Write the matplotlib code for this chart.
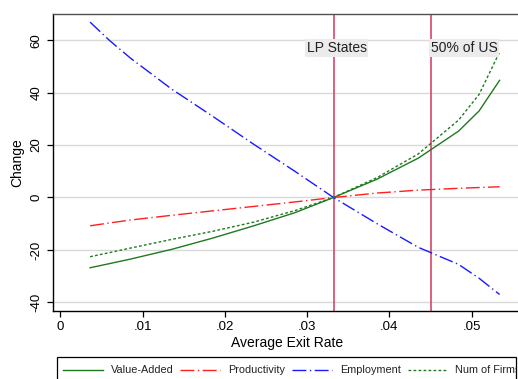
import matplotlib
matplotlib.use("Agg")
import matplotlib.pyplot as plt
from matplotlib.lines import Line2D
from matplotlib.patches import Rectangle
from matplotlib.transforms import Bbox, TransformedBbox

plt.rcParams['font.family'] = ['Liberation Sans', 'DejaVu Sans']

# ---- data ----
exit_rate = [0.0036, 0.0060, 0.0085, 0.0135, 0.0185, 0.0235, 0.0285, 0.0332,
             0.0385, 0.0435, 0.0484, 0.0509, 0.0534]
value_added = [-26.8, -25.2, -23.5, -19.8, -15.5, -10.8, -5.8, 0.0,
               7.0, 15.0, 25.3, 33.0, 44.7]
productivity = [-10.8, -9.7, -8.6, -6.8, -5.1, -3.4, -1.7, 0.0,
                1.7, 2.8, 3.5, 3.8, 4.1]
employment = [66.9, 59.8, 53.2, 41.4, 31.0, 20.3, 10.0, 0.0,
              -10.0, -19.0, -25.5, -30.8, -37.0]
num_firms = [-22.6, -21.0, -19.3, -16.0, -12.9, -9.4, -5.0, 0.0,
             7.6, 16.6, 29.5, 39.3, 55.5]

series_names = ["Value-Added", "Productivity", "Employment", "Num of Firms"]

xticks = [0, 0.01, 0.02, 0.03, 0.04, 0.05]
xtick_labels = ["0", ".01", ".02", ".03", ".04", ".05"]
yticks = [-40, -20, 0, 20, 40, 60]
ytick_labels = ["-40", "-20", "0", "20", "40", "60"]

vlines = [0.0332, 0.045]
vline_labels = ["LP States", "50% of US"]

# ---- figure ----
W, H = 518, 379
fig = plt.figure(figsize=(W / 100, H / 100), dpi=100)
fig.patch.set_facecolor("white")
ax = fig.add_axes([52.5 / W, 1 - 311 / H, (521 - 52.5) / W, (311 - 14) / H])

ax.set_xlim(-0.00097, 0.0560)
ax.set_ylim(-43.3, 70.0)

for y in yticks:
    ax.axhline(y, color="#d9d9d9", lw=1.0, zorder=0)

green = "#1f7a1f"
styles = [
    dict(color=green, ls="-", lw=1.0),
    dict(color="#ff1f1f", ls=(0, (10, 2.5, 1, 2.5)), lw=1.0),
    dict(color="#1a1aff", ls=(0, (10, 2.5, 1, 2.5)), lw=1.0),
    dict(color=green, ls=(0, (2.0, 1.6)), lw=1.0),
]
data = [value_added, productivity, employment, num_firms]
handles = []
for vals, st, name in zip(data, styles, series_names):
    ln, = ax.plot(exit_rate, vals, zorder=3, label=name, **st)
    handles.append(ln)

vcol = "#d4486a"
for xv in vlines:
    ax.axvline(xv, color=vcol, lw=1.2, zorder=2)

ax.text(0.0336, 57.0, vline_labels[0], ha="center", va="center", fontsize=10,
        color="#222222", zorder=4,
        bbox=dict(facecolor="#ebebeb", edgecolor="none", pad=1.2))
ax.text(0.04505, 57.0, vline_labels[1], ha="left", va="center", fontsize=10,
        color="#222222", zorder=4,
        bbox=dict(facecolor="#ebebeb", edgecolor="none", pad=1.2))

ax.set_xticks(xticks)
ax.set_xticklabels(xtick_labels, fontsize=9.5)
ax.set_yticks(yticks)
ax.set_yticklabels(ytick_labels, fontsize=9.5, rotation=90, va="center")
ax.tick_params(axis="both", length=4, width=0.9, color="black", pad=3.5)
ax.tick_params(axis="y", pad=3)

for s in ["left", "bottom"]:
    ax.spines[s].set_color("black")
    ax.spines[s].set_linewidth(1.0)
ax.spines["top"].set_color("#505050")
ax.spines["top"].set_linewidth(1.0)
ax.spines["right"].set_color("#505050")

ax.set_xlabel("Average Exit Rate", fontsize=10, labelpad=2)
ax.set_ylabel("Change", fontsize=10, labelpad=5)

# ---- legend (manual, clipped by its frame, as in the reference) ----
lx0, lx1, ly0, ly1 = 57, 516, 357, 392
frame = Rectangle((lx0 / W, 1 - ly1 / H), (lx1 - lx0) / W, (ly1 - ly0) / H,
                  transform=fig.transFigure, facecolor="white",
                  edgecolor="black", lw=0.9)
fig.add_artist(frame)
clip = TransformedBbox(Bbox.from_extents(lx0 / W, 0, lx1 / W, 1), fig.transFigure)
sample_x = [63, 180, 292, 408]
text_x = [111, 228, 340, 455]
yrow = 1 - 370 / H
for h, st, sx, tx, name in zip(handles, styles, sample_x, text_x, series_names):
    l = Line2D([sx / W, (sx + 40) / W], [yrow, yrow], transform=fig.transFigure,
               color=st["color"], ls=st["ls"], lw=1.0)
    fig.add_artist(l)
    t = fig.text(tx / W, yrow, name, ha="left", va="center", fontsize=7.8,
                 color="#222222")
    t.set_clip_box(clip)
    t.set_clip_on(True)

fig.savefig("out.png", dpi=100)
